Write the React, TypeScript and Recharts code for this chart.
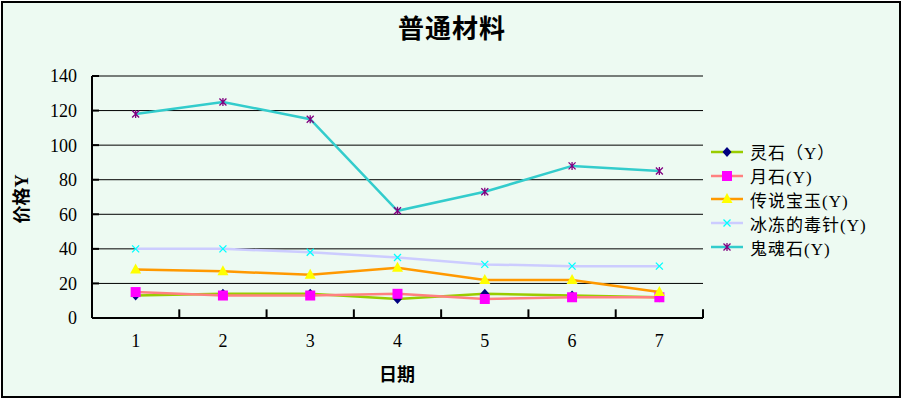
import { CartesianGrid, Legend, Line, LineChart, ReferenceLine, XAxis, YAxis } from 'recharts';

const days = [1, 2, 3, 4, 5, 6, 7];
const lingshi = [13, 14, 14, 11, 14, 13, 12];
const yueshi = [15, 13, 13, 14, 11, 12, 12];
const chuanshuo = [28, 27, 25, 29, 22, 22, 15];
const bingdong = [40, 40, 38, 35, 31, 30, 30];
const guihun = [118, 125, 115, 62, 73, 88, 85];
const yTicks = [0, 20, 40, 60, 80, 100, 120, 140];
const xBounds = [1.5, 2.5, 3.5, 4.5, 5.5, 6.5, 7.5];

const data = days.map((d, i) => ({
	day: d,
	lingshi: lingshi[i],
	yueshi: yueshi[i],
	chuanshuo: chuanshuo[i],
	bingdong: bingdong[i],
	guihun: guihun[i],
}));

const FONT = "'Liberation Serif', 'Noto Sans CJK SC', serif";

type Shape = 'diamond' | 'square' | 'triangle' | 'cross' | 'star';

const series: { key: string; name: string; color: string; marker: string; shape: Shape }[] = [
	{ key: 'lingshi', name: '灵石（Y）', color: '#99cc00', marker: '#000080', shape: 'diamond' },
	{ key: 'yueshi', name: '月石(Y)', color: '#ff8080', marker: '#ff00ff', shape: 'square' },
	{ key: 'chuanshuo', name: '传说宝玉(Y)', color: '#ff9900', marker: '#ffff00', shape: 'triangle' },
	{ key: 'bingdong', name: '冰冻的毒针(Y)', color: '#ccccff', marker: '#00ffff', shape: 'cross' },
	{ key: 'guihun', name: '鬼魂石(Y)', color: '#33cccc', marker: '#800080', shape: 'star' },
];

const drawMarker = (shape: Shape, color: string, cx: number, cy: number, key?: string | number) => {
	switch (shape) {
		case 'diamond':
			return <path key={key} d={`M${cx},${cy - 5}L${cx + 4.5},${cy}L${cx},${cy + 5}L${cx - 4.5},${cy}Z`} fill={color} />;
		case 'square':
			return <rect key={key} x={cx - 5} y={cy - 5} width={10} height={10} fill={color} />;
		case 'triangle':
			return <path key={key} d={`M${cx},${cy - 6}L${cx + 5.5},${cy + 4}L${cx - 5.5},${cy + 4}Z`} fill={color} />;
		case 'cross':
			return (
				<path key={key} d={`M${cx - 3.5},${cy - 3.5}L${cx + 3.5},${cy + 3.5}M${cx + 3.5},${cy - 3.5}L${cx - 3.5},${cy + 3.5}`} stroke={color} strokeWidth={1.3} fill='none' />
			);
		default:
			return (
				<path key={key} d={`M${cx - 3.5},${cy - 3.5}L${cx + 3.5},${cy + 3.5}M${cx + 3.5},${cy - 3.5}L${cx - 3.5},${cy + 3.5}M${cx},${cy - 4}L${cx},${cy + 4}`} stroke={color} strokeWidth={1.3} fill='none' />
			);
	}
};

const LegendBox = () => (
	<div style={{ fontFamily: FONT, fontSize: 17, color: '#000', letterSpacing: 1 }}>
		{series.map((s) => (
			<div key={s.key} style={{ display: 'flex', alignItems: 'center', height: 23.8 }}>
				<svg width={36} height={14} style={{ marginRight: 3 }}>
					<line x1={0} y1={7} x2={32} y2={7} stroke={s.color} strokeWidth={2.5} />
					{drawMarker(s.shape, s.marker, 16, 7)}
				</svg>
				<span style={{ whiteSpace: 'nowrap' }}>{s.name}</span>
			</div>
		))}
	</div>
);

const App = () => {
	return (
		<div style={{ position: 'absolute', left: 0, top: 0, width: 902, height: 398, background: '#fff' }}>
			<div
				style={{
					position: 'absolute',
					left: 1,
					top: 1,
					width: 900,
					height: 397,
					boxSizing: 'border-box',
					border: '2px solid #000',
					background: '#edfaf2',
				}}
			/>
			<div
				style={{
					position: 'absolute',
					left: 352,
					top: 13,
					width: 200,
					textAlign: 'center',
					fontFamily: FONT,
					fontWeight: 'bold',
					fontSize: 26,
					letterSpacing: 1,
					lineHeight: '34px',
				}}
			>
				普通材料
			</div>
			<div
				style={{
					position: 'absolute',
					left: 347,
					top: 362,
					width: 100,
					textAlign: 'center',
					fontFamily: FONT,
					fontWeight: 'bold',
					fontSize: 18,
					lineHeight: '26px',
				}}
			>
				日期
			</div>
			<div style={{ position: 'absolute', left: 0, top: 0 }}>
				<LineChart width={902} height={398} data={data} margin={{ top: 76, right: 199, left: 0, bottom: 30 }}>
					<CartesianGrid vertical={false} stroke='#000' strokeWidth={1} />
					<XAxis
						type='number'
						dataKey='day'
						domain={[0.5, 7.5]}
						ticks={days}
						interval={0}
						height={50}
						tickLine={false}
						tickSize={0}
						tickMargin={16}
						axisLine={{ stroke: '#000', strokeWidth: 2 }}
						tick={{ fill: '#000', fontSize: 18, fontFamily: FONT }}
					/>
					<YAxis
						type='number'
						domain={[0, 140]}
						ticks={yTicks}
						interval={0}
						width={92}
						tickLine={false}
						tickSize={0}
						tickMargin={15}
						axisLine={{ stroke: '#000', strokeWidth: 2 }}
						tick={{ fill: '#000', fontSize: 18, fontFamily: FONT }}
						label={{
							content: () => (
								<text
									x={22}
									y={199}
									transform='rotate(-90 22 199)'
									textAnchor='middle'
									dominantBaseline='central'
									fontFamily={FONT}
									fontWeight='bold'
									fontSize={18}
									fill='#000'
								>
									价格Y
								</text>
							),
						}}
					/>
					{xBounds.map((b) => (
						<ReferenceLine
							key={`xb${b}`}
							segment={[
								{ x: b, y: 0 },
								{ x: b, y: 5 },
							]}
							stroke='#000'
							strokeWidth={2}
							ifOverflow='visible'
						/>
					))}
					{yTicks.slice(1).map((v) => (
						<ReferenceLine
							key={`yt${v}`}
							segment={[
								{ x: 0.5, y: v },
								{ x: 0.58, y: v },
							]}
							stroke='#000'
							strokeWidth={2}
							ifOverflow='visible'
						/>
					))}
					{series.map((s) => (
						<Line
							key={s.key}
							type='linear'
							dataKey={s.key}
							name={s.name}
							stroke={s.color}
							strokeWidth={2.5}
							isAnimationActive={false}
							dot={(p: any) => drawMarker(s.shape, s.marker, p.cx, p.cy, `${s.key}-${p.index}`)}
							activeDot={false}
						/>
					))}
					<Legend
						layout='horizontal'
						align='center'
						verticalAlign='middle'
						wrapperStyle={{ left: 711, top: 140, width: 190 }}
						content={() => <LegendBox />}
					/>
				</LineChart>
			</div>
		</div>
	);
};

export default App;
